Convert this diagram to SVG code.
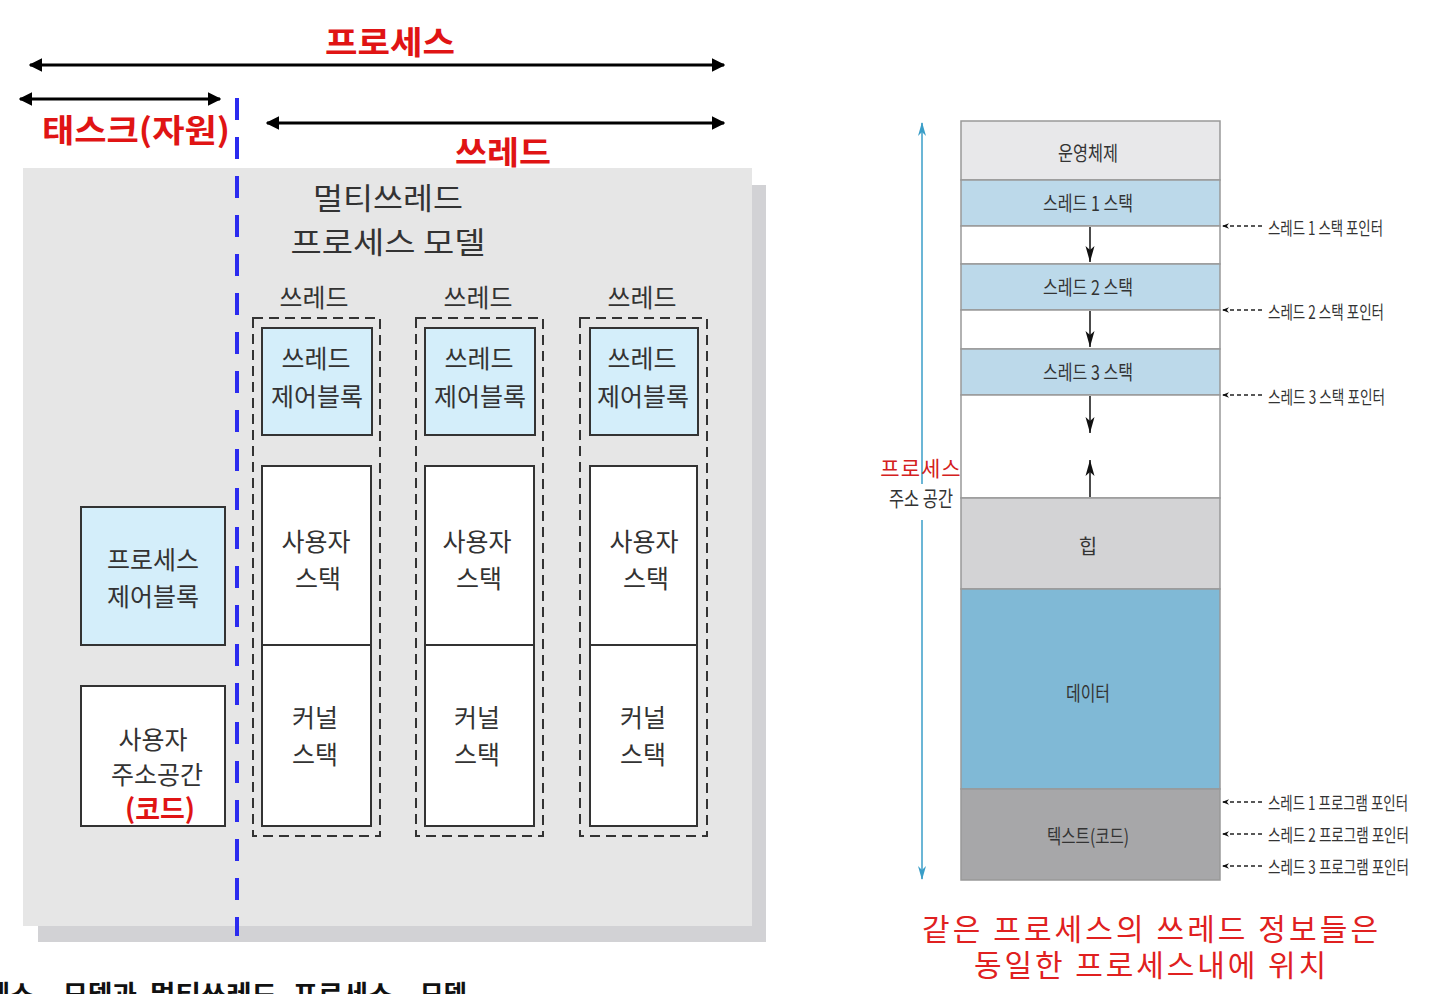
<svg xmlns="http://www.w3.org/2000/svg" width="1440" height="994" viewBox="0 0 1440 994">
<defs>
<style>
.k{font-family:"Noto Sans CJK KR","Noto Sans",sans-serif}
.red{fill:#e01414;font-weight:bold;font-size:32px}
.g{fill:#333;font-size:25px;text-anchor:middle}
.m{fill:#333;font-size:20px;text-anchor:middle}
.p{fill:#333;font-size:18px}
.box{stroke:#333;stroke-width:2}
.dash{fill:none;stroke:#333;stroke-width:2;stroke-dasharray:10 6}
.seg{stroke:#999;stroke-width:1.5}
.blk{stroke:#000;stroke-width:3;fill:none}
.ptr{stroke:#222;stroke-width:1.5;stroke-dasharray:4 3;fill:none}
.grow{stroke:#111;stroke-width:1.5}
</style>
<marker id="ah" viewBox="0 0 10 10" refX="9" refY="5" markerWidth="4.5" markerHeight="4.5" orient="auto-start-reverse" markerUnits="strokeWidth"><path d="M0,0L10,5L0,10z" fill="#000"/></marker>
<marker id="sa" viewBox="0 0 16 10" refX="16" refY="5" markerWidth="16" markerHeight="10" orient="auto" markerUnits="userSpaceOnUse"><path d="M0,0.5L16,5L0,9.5L4,5z" fill="#111"/></marker>
<marker id="pa" viewBox="0 0 10 10" refX="10" refY="5" markerWidth="8" markerHeight="7" orient="auto" markerUnits="userSpaceOnUse"><path d="M0,1L10,5L0,9L3,5z" fill="#111"/></marker>
<marker id="ta" viewBox="0 0 14 10" refX="13" refY="5" markerWidth="14" markerHeight="10" orient="auto-start-reverse" markerUnits="userSpaceOnUse"><path d="M0,1L14,5L0,9L4,5z" fill="#3a9ec8"/></marker>
</defs>

<g id="panel">
<rect x="38" y="185" width="728" height="757" fill="#d2d2d5"/>
<rect x="23" y="168" width="729" height="758" fill="#e6e6e6"/>
</g>

<g id="title" class="k">
<text class="red" x="390" y="54" text-anchor="middle" textLength="130" lengthAdjust="spacingAndGlyphs">프로세스</text>
<text class="red" x="42" y="142" textLength="188" lengthAdjust="spacingAndGlyphs">태스크(자원)</text>
<text class="red" x="455" y="164" textLength="96" lengthAdjust="spacingAndGlyphs">쓰레드</text>
<text x="388" y="209" fill="#333" font-size="30" text-anchor="middle" textLength="150" lengthAdjust="spacingAndGlyphs">멀티쓰레드</text>
<text x="388" y="253" fill="#333" font-size="30" text-anchor="middle" textLength="195" lengthAdjust="spacingAndGlyphs">프로세스 모델</text>
</g>

<g id="pcb">
<rect class="box" x="81" y="507" width="144" height="138" fill="#d4eefa"/>
<text class="k g" x="153" y="569">프로세스</text>
<text class="k g" x="153" y="606">제어블록</text>
</g>
<g id="useraddr">
<rect class="box" x="81" y="686" width="144" height="140" fill="#fff"/>
<text class="k g" x="153" y="749">사용자</text>
<text class="k g" x="157" y="784">주소공간</text>
<text class="k" x="160" y="819" fill="#e01414" font-weight="bold" font-size="27" text-anchor="middle">(코드)</text>
</g>

<g id="thread1">
<text class="k g" x="314" y="307" font-size="24">쓰레드</text>
<rect class="dash" x="253" y="318" width="127" height="518"/>
<rect class="box" x="262" y="328" width="110" height="107" fill="#d4eefa"/>
<text class="k g" x="316" y="368">쓰레드</text>
<text class="k g" x="317" y="406">제어블록</text>
<rect class="box" x="262" y="466" width="109" height="179" fill="#fff"/>
<rect class="box" x="262" y="645" width="109" height="181" fill="#fff"/>
<text class="k g" x="316" y="551">사용자</text>
<text class="k g" x="318" y="588">스택</text>
<text class="k g" x="315" y="727">커널</text>
<text class="k g" x="315" y="764">스택</text>
</g>
<g id="thread2">
<text class="k g" x="478" y="307" font-size="24">쓰레드</text>
<rect class="dash" x="416" y="318" width="127" height="518"/>
<rect class="box" x="425" y="328" width="110" height="107" fill="#d4eefa"/>
<text class="k g" x="479" y="368">쓰레드</text>
<text class="k g" x="480" y="406">제어블록</text>
<rect class="box" x="425" y="466" width="109" height="179" fill="#fff"/>
<rect class="box" x="425" y="645" width="109" height="181" fill="#fff"/>
<text class="k g" x="477" y="551">사용자</text>
<text class="k g" x="479" y="588">스택</text>
<text class="k g" x="477" y="727">커널</text>
<text class="k g" x="477" y="764">스택</text>
</g>
<g id="thread3">
<text class="k g" x="642" y="307" font-size="24">쓰레드</text>
<rect class="dash" x="580" y="318" width="127" height="518"/>
<rect class="box" x="590" y="328" width="108" height="107" fill="#d4eefa"/>
<text class="k g" x="642" y="368">쓰레드</text>
<text class="k g" x="643" y="406">제어블록</text>
<rect class="box" x="590" y="466" width="107" height="179" fill="#fff"/>
<rect class="box" x="590" y="645" width="107" height="181" fill="#fff"/>
<text class="k g" x="644" y="551">사용자</text>
<text class="k g" x="646" y="588">스택</text>
<text class="k g" x="643" y="727">커널</text>
<text class="k g" x="643" y="764">스택</text>
</g>

<g id="memory">
<rect class="seg" x="961" y="121" width="259" height="59" fill="#e8e8ea"/>
<rect class="seg" x="961" y="180" width="259" height="46" fill="#bcd9ea"/>
<rect class="seg" x="961" y="226" width="259" height="38" fill="#fff"/>
<rect class="seg" x="961" y="264" width="259" height="46" fill="#bcd9ea"/>
<rect class="seg" x="961" y="310" width="259" height="39" fill="#fff"/>
<rect class="seg" x="961" y="349" width="259" height="46" fill="#bcd9ea"/>
<rect class="seg" x="961" y="395" width="259" height="103" fill="#fff"/>
<rect class="seg" x="961" y="498" width="259" height="91" fill="#d3d3d5"/>
<rect class="seg" x="961" y="589" width="259" height="200" fill="#80b9d6"/>
<rect class="seg" x="961" y="789" width="259" height="91" fill="#a7a7a9"/>
<text class="k m" x="1088" y="161" textLength="60" lengthAdjust="spacingAndGlyphs">운영체제</text>
<text class="k m" x="1088" y="211" textLength="90" lengthAdjust="spacingAndGlyphs">스레드 1 스택</text>
<text class="k m" x="1088" y="295" textLength="90" lengthAdjust="spacingAndGlyphs">스레드 2 스택</text>
<text class="k m" x="1088" y="380" textLength="90" lengthAdjust="spacingAndGlyphs">스레드 3 스택</text>
<text class="k m" x="1088" y="554">힙</text>
<text class="k m" x="1088" y="701" textLength="44" lengthAdjust="spacingAndGlyphs">데이터</text>
<text class="k m" x="1088" y="844" textLength="82" lengthAdjust="spacingAndGlyphs">텍스트(코드)</text>
</g>

<g id="connectors">
<line class="blk" x1="30" y1="65" x2="724" y2="65" marker-start="url(#ah)" marker-end="url(#ah)"/>
<line class="blk" x1="20" y1="99" x2="220" y2="99" marker-start="url(#ah)" marker-end="url(#ah)"/>
<line class="blk" x1="267" y1="123" x2="724" y2="123" marker-start="url(#ah)" marker-end="url(#ah)"/>
<line x1="237" y1="98" x2="237" y2="936" stroke="#2b2bef" stroke-width="4" stroke-dasharray="22 17"/>
<line class="grow" x1="1090" y1="227" x2="1090" y2="262" marker-end="url(#sa)"/>
<line class="grow" x1="1090" y1="311" x2="1090" y2="347" marker-end="url(#sa)"/>
<line class="grow" x1="1090" y1="396" x2="1090" y2="433" marker-end="url(#sa)"/>
<line class="grow" x1="1090" y1="497" x2="1090" y2="460" marker-end="url(#sa)"/>
<line class="ptr" x1="1262" y1="226" x2="1222" y2="226" marker-end="url(#pa)"/>
<line class="ptr" x1="1262" y1="310" x2="1222" y2="310" marker-end="url(#pa)"/>
<line class="ptr" x1="1262" y1="395" x2="1222" y2="395" marker-end="url(#pa)"/>
<line class="ptr" x1="1262" y1="802" x2="1222" y2="802" marker-end="url(#pa)"/>
<line class="ptr" x1="1262" y1="834" x2="1222" y2="834" marker-end="url(#pa)"/>
<line class="ptr" x1="1262" y1="866" x2="1222" y2="866" marker-end="url(#pa)"/>
<line x1="922" y1="123" x2="922" y2="484" stroke="#3a9ec8" stroke-width="1.5" marker-start="url(#ta)"/>
<line x1="922" y1="520" x2="922" y2="879" stroke="#3a9ec8" stroke-width="1.5" marker-end="url(#ta)"/>
</g>

<g id="pointers" class="k">
<text class="p" x="1268" y="235" textLength="115" lengthAdjust="spacingAndGlyphs">스레드 1 스택 포인터</text>
<text class="p" x="1268" y="319" textLength="116" lengthAdjust="spacingAndGlyphs">스레드 2 스택 포인터</text>
<text class="p" x="1268" y="404" textLength="117" lengthAdjust="spacingAndGlyphs">스레드 3 스택 포인터</text>
<text class="p" x="1268" y="810" textLength="140" lengthAdjust="spacingAndGlyphs">스레드 1 프로그램 포인터</text>
<text class="p" x="1268" y="842" textLength="141" lengthAdjust="spacingAndGlyphs">스레드 2 프로그램 포인터</text>
<text class="p" x="1268" y="874" textLength="141" lengthAdjust="spacingAndGlyphs">스레드 3 프로그램 포인터</text>
</g>

<g id="addrlabel" class="k" text-anchor="middle">
<text x="921" y="476" fill="#d42020" font-size="21" letter-spacing="1">프로세스</text>
<text x="921" y="506" fill="#333" font-size="21" textLength="64" lengthAdjust="spacingAndGlyphs">주소 공간</text>
</g>

<g id="note" class="k" fill="#e02020" font-size="30" text-anchor="middle">
<text x="1150" y="940" textLength="456" lengthAdjust="spacing">같은 프로세스의 쓰레드 정보들은</text>
<text x="1150" y="976" textLength="352" lengthAdjust="spacing">동일한 프로세스내에 위치</text>
</g>

<g id="caption" class="k" fill="#111" font-size="26" font-weight="bold">
<text x="-14" y="1004" textLength="48" lengthAdjust="spacingAndGlyphs">세스</text>
<text x="63" y="1004" textLength="74" lengthAdjust="spacingAndGlyphs">모델과</text>
<text x="150" y="1004" textLength="127" lengthAdjust="spacingAndGlyphs">멀티쓰레드</text>
<text x="293" y="1004" textLength="100" lengthAdjust="spacingAndGlyphs">프로세스</text>
<text x="420" y="1004" textLength="47" lengthAdjust="spacingAndGlyphs">모델</text>
</g>
</svg>
